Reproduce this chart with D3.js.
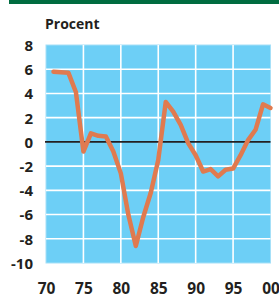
<!DOCTYPE html>
<html>
<head>
<meta charset="utf-8">
<script src="https://cdn.jsdelivr.net/npm/d3@7"></script>
<style>
  body { margin: 0; background: #fff; }
  svg { display: block; }
  .tick text { font-family: "Open Sans", sans-serif; font-weight: 700; fill: #231f20; }
</style>
</head>
<body>
<div id="chart"></div>
<script>
var years = [1971, 1972, 1973, 1974, 1975, 1976, 1977, 1978, 1979, 1980,
  1981, 1982, 1983, 1984, 1985, 1986, 1987, 1988, 1989, 1990,
  1991, 1992, 1993, 1994, 1995, 1996, 1997, 1998, 1999, 2000];
var values = [5.8, 5.75, 5.7, 4.1, -0.8, 0.7, 0.5, 0.45, -0.8, -2.6,
  -6.0, -8.6, -6.2, -4.2, -1.5, 3.3, 2.5, 1.4, -0.1, -1.1,
  -2.45, -2.25, -2.85, -2.3, -2.2, -1.1, 0.15, 1.0, 3.1, 2.8];
var xTicks = [1970, 1975, 1980, 1985, 1990, 1995, 2000];
var xTickLabels = ["70", "75", "80", "85", "90", "95", "00"];
var yTicks = [8, 6, 4, 2, 0, -2, -4, -6, -8, -10];

var W = 279, H = 302;
var margin = { top: 45, right: 8.5, bottom: 39, left: 46 },
  width = W - margin.left - margin.right,
  height = H - margin.top - margin.bottom;

var svg = d3.select("#chart").append("svg")
  .attr("width", W)
  .attr("height", H);

// green band on top
svg.append("rect")
  .attr("x", 9).attr("y", 0)
  .attr("width", W - 9).attr("height", 4)
  .attr("fill", "#006c40");

svg.append("text")
  .attr("x", 45).attr("y", 28.5)
  .style("font-family", "'Open Sans', sans-serif")
  .style("font-weight", 700)
  .style("font-size", "14px")
  .attr("fill", "#231f20")
  .text("Procent");

var g = svg.append("g")
  .attr("transform", "translate(" + margin.left + "," + margin.top + ")");

var x = d3.scaleLinear().domain([1970, 2000]).range([0, width]);
var y = d3.scaleLinear().domain([-10, 8]).range([height, 0]);

g.append("rect")
  .attr("width", width).attr("height", height)
  .attr("fill", "#6dcff6")
  .attr("stroke", "#a6e0f8")
  .attr("stroke-width", 1);

g.selectAll(".vgrid")
  .data(xTicks.slice(1, -1))
  .enter().append("line")
  .attr("class", "vgrid")
  .attr("x1", function (d) { return x(d); })
  .attr("x2", function (d) { return x(d); })
  .attr("y1", 0).attr("y2", height)
  .attr("stroke", "#fff").attr("stroke-width", 1.6);

g.selectAll(".hgrid")
  .data(yTicks.filter(function (d) { return d !== 0 && d !== 8 && d !== -10; }))
  .enter().append("line")
  .attr("class", "hgrid")
  .attr("x1", 0).attr("x2", width)
  .attr("y1", function (d) { return y(d); })
  .attr("y2", function (d) { return y(d); })
  .attr("stroke", "#fff").attr("stroke-width", 1.6);

g.append("line")
  .attr("x1", -1).attr("x2", width)
  .attr("y1", y(0)).attr("y2", y(0))
  .attr("stroke", "#231f20").attr("stroke-width", 1.8);

var yAxis = g.append("g")
  .attr("transform", "translate(-13,0)")
  .call(d3.axisLeft(y).tickValues(yTicks).tickSize(0).tickPadding(0)
    .tickFormat(function (d) { return String(d); }));
yAxis.select(".domain").remove();
yAxis.selectAll(".tick text").style("font-size", "15px").attr("dy", "0.36em");

var xAxis = g.append("g")
  .attr("transform", "translate(0," + height + ")")
  .call(d3.axisBottom(x).tickValues(xTicks).tickSize(0).tickPadding(20)
    .tickFormat(function (d, i) { return xTickLabels[i]; }));
xAxis.select(".domain").remove();
xAxis.selectAll(".tick text").style("font-size", "15.5px");

var line = d3.line()
  .x(function (d, i) { return x(years[i]); })
  .y(function (d) { return y(d); });

g.append("path")
  .datum(values)
  .attr("d", line)
  .attr("fill", "none")
  .attr("stroke", "#e07a4f")
  .attr("stroke-width", 4.5)
  .attr("stroke-linejoin", "round")
  .attr("stroke-linecap", "round");
</script>
</body>
</html>
